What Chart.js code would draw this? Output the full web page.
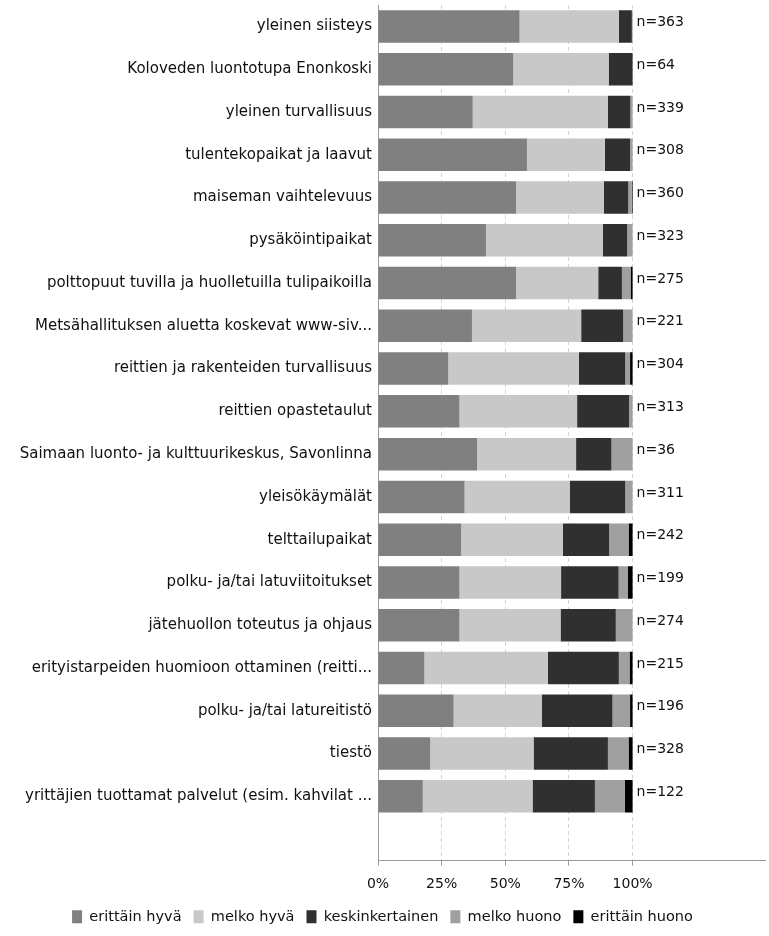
<!DOCTYPE html>
<html><head><meta charset="utf-8">
<script src="https://cdn.jsdelivr.net/npm/chart.js@4.4.1/dist/chart.umd.min.js"></script>
<style>html,body{margin:0;padding:0;background:#fff}#wrap{width:769px;height:936px}</style>
</head><body><div id="wrap"><canvas id="c"></canvas></div>
<script>
const categories = [
  "yleinen siisteys",
  "Koloveden luontotupa Enonkoski",
  "yleinen turvallisuus",
  "tulentekopaikat ja laavut",
  "maiseman vaihtelevuus",
  "pysäköintipaikat",
  "polttopuut tuvilla ja huolletuilla tulipaikoilla",
  "Metsähallituksen aluetta koskevat www-siv...",
  "reittien ja rakenteiden turvallisuus",
  "reittien opastetaulut",
  "Saimaan luonto- ja kulttuurikeskus, Savonlinna",
  "yleisökäymälät",
  "telttailupaikat",
  "polku- ja/tai latuviitoitukset",
  "jätehuollon toteutus ja ohjaus",
  "erityistarpeiden huomioon ottaminen (reitti...",
  "polku- ja/tai latureitistö",
  "tiestö",
  "yrittäjien tuottamat palvelut (esim. kahvilat ..."
];
const nValues = [363,64,339,308,360,323,275,221,304,313,36,311,242,199,274,215,196,328,122];
const erittainHyva   = [55.6,53.1,37.2,58.5,54.2,42.4,54.2,36.9,27.6,32.0,38.9,34.0,32.7,32.0,32.0,18.2,29.7,20.5,17.6];
const melkoHyva      = [39.0,37.5,53.1,30.6,34.5,45.9,32.3,42.9,51.3,46.2,38.9,41.3,39.9,39.9,39.7,48.5,34.6,40.6,43.1];
const keskinkertainen= [5.1, 9.4, 8.8, 9.9, 9.6, 9.6, 9.3,16.5,18.2,20.4,13.9,21.8,18.2,22.6,21.7,27.9,27.8,29.2,24.5];
const melkoHuono     = [0.3, 0,   0.9, 1.0, 1.4, 2.1, 3.4, 3.7, 1.9, 1.4, 8.3, 2.9, 7.6, 3.7, 6.6, 4.2, 6.9, 8.1,11.8];
const erittainHuono  = [0,   0,   0,   0,   0.3, 0,   0.8, 0,   1.0, 0,   0,   0,   1.6, 1.8, 0,   1.2, 1.0, 1.6, 3.0];
const seriesNames = ["erittäin hyvä","melko hyvä","keskinkertainen","melko huono","erittäin huono"];
const xTicks = [0,25,50,75,100];

const colors = ["#808080","#c8c8c8","#303030","#a0a0a0","#000000"];
const seriesData = [erittainHyva, melkoHyva, keskinkertainen, melkoHuono, erittainHuono];
const labels = categories.concat([""]);
const FONT = '"DejaVu Sans", sans-serif';

const nLabelPlugin = {
  id: 'nlabels',
  afterDatasetsDraw(chart) {
    const ctx = chart.ctx, xs = chart.scales.x, ys = chart.scales.y;
    ctx.save();
    ctx.font = '14px ' + FONT;
    ctx.fillStyle = '#111';
    ctx.textBaseline = 'middle';
    ctx.textAlign = 'left';
    nValues.forEach((n, i) => {
      ctx.fillText('n=' + n, xs.getPixelForValue(100) + 4, ys.getPixelForValue(i) - 4);
    });
    ctx.restore();
  }
};

new Chart(document.getElementById('c'), {
  type: 'bar',
  data: {
    labels: labels,
    datasets: seriesNames.map((name, k) => ({
      label: name,
      data: seriesData[k],
      backgroundColor: colors[k],
      borderWidth: 0,
      barPercentage: 0.76,
      categoryPercentage: 1.0
    }))
  },
  options: {
    indexAxis: 'y',
    responsive: true,
    maintainAspectRatio: false,
    animation: false,
    layout: { padding: { top: 5, right: 4, bottom: 2, left: 0 } },
    plugins: {
      legend: {
        position: 'bottom',
        labels: {
          boxWidth: 10, boxHeight: 13, padding: 12,
          color: '#111',
          font: { family: FONT, size: 14.5 }
        }
      },
      tooltip: { enabled: false }
    },
    scales: {
      x: {
        stacked: true,
        min: 0, max: 152,
        afterBuildTicks(scale) { scale.ticks = xTicks.map(v => ({ value: v })); },
        afterFit(scale) { scale.height = 37; },
        ticks: {
          color: '#111',
          font: { family: FONT, size: 14 },
          callback: v => v + '%',
          padding: 10
        },
        grid: {
          color: '#d4d4d4',
          tickColor: '#999',
          tickLength: 5,
          drawTicks: true,
          tickBorderDash: []
        },
        border: { display: true, color: '#999', width: 1, dash: [4, 3] }
      },
      y: {
        stacked: true,
        afterFit(scale) { scale.width = 378; scale.paddingTop = 0; scale.paddingBottom = 0; },
        ticks: {
          color: '#111',
          padding: 6,
          font: { family: FONT, size: 15 }
        },
        grid: { display: false, drawTicks: false, tickLength: 0 },
        border: { display: true, color: '#999', width: 1 }
      }
    }
  },
  plugins: [nLabelPlugin]
});
</script>
</body></html>
